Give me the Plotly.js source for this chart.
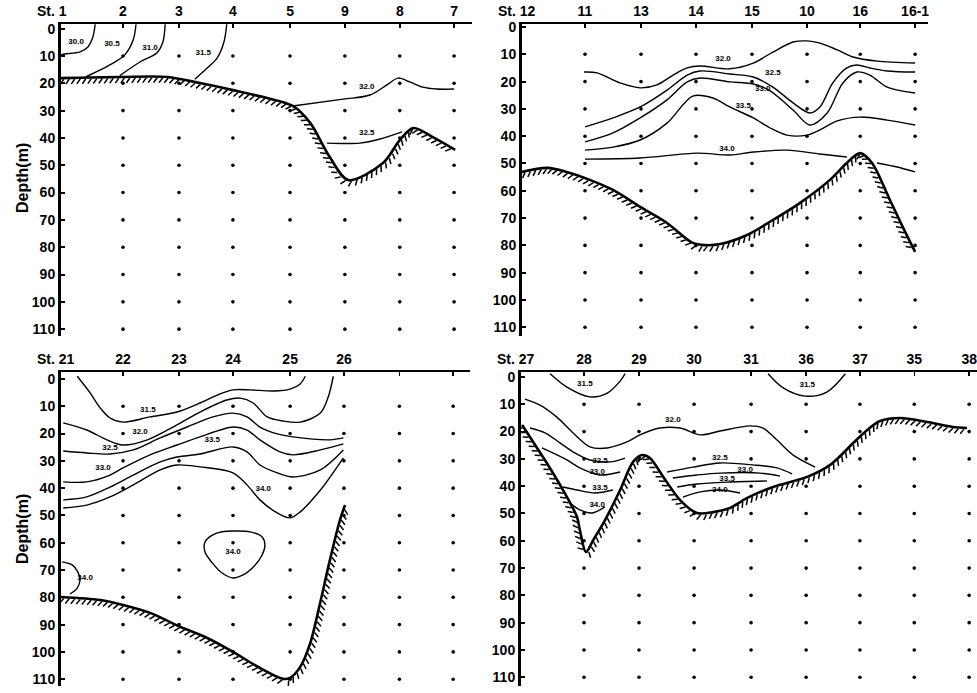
<!DOCTYPE html>
<html><head><meta charset="utf-8">
<script src="https://cdn.plot.ly/plotly-3.0.1.min.js"></script>
<style>html,body{margin:0;padding:0;background:#fff}#chart{width:977px;height:693px}</style>
</head><body><div id="chart"></div>
<script>
// ---------- DATA ----------
const DEPTHS = [10,20,30,40,50,60,70,80,90,100,110];
const Y_TICKS = [0,10,20,30,40,50,60,70,80,90,100,110];

// Panel 1
const P1_ST = ['1','2','3','4','5','9','8','7'];
const P1_X  = [0,1.107,2.107,3.07,4.09,5.07,6.05,7.02];
const P1_C300_X = [0.61,0.57,0.48,0.34,0.07,0];
const P1_C300_D = [-1.6,3.0,6.7,8.5,9.3,9.6];
const P1_C305_X = [1.34,1.29,1.14,0.93,0.70,0.45];
const P1_C305_D = [-1.6,4.1,9.6,12.6,15.1,17.6];
const P1_C310_X = [1.86,1.82,1.71,1.41,1.05];
const P1_C310_D = [-1.6,4.9,8.9,12.2,17.2];
const P1_C315_X = [2.96,2.91,2.79,2.61,2.39];
const P1_C315_D = [-1.6,4.9,10.7,14.4,18.5];
const P1_C320_X = [4.14,5.04,5.52,5.82,6.02,6.23,6.46,6.71,7.02];
const P1_C320_D = [28.3,25.8,24.3,20.6,18.1,19.5,21.4,22.1,22.1];
const P1_C325_X = [4.75,5.34,5.70,6.09];
const P1_C325_D = [41.9,41.9,40.4,37.8];
const P1_BOT_X = [0,1.05,1.89,2.48,3.07,3.68,4.14,4.45,4.80,5.13,5.75,6.05,6.29,6.64,7.04];
const P1_BOT_D = [18.1,17.7,17.7,19.9,22.5,25.4,28.3,34.5,47,55.4,49.2,40.8,36.4,39.7,44.4];
const P1_LBL_T = ['30.0','30.5','31.0','31.5','32.0','32.5'];
const P1_LBL_X = [0.27,0.91,1.59,2.54,5.46,5.46];
const P1_LBL_D = [5.0,5.6,7.1,9.0,21.4,38.2];

// Panel 2
const P2_ST = ['12','11','13','14','15','10','16','16-1'];
const P2_X  = [0,1.125,2.125,3.107,4.107,5.09,6.04,7.02];
const P2_C320_X = [1.107,1.34,1.75,2.11,2.41,2.70,2.95,3.18,3.71,4.13,4.48,4.84,5.09,5.32,5.63,5.91,6.34,7.02];
const P2_C320_D = [16.5,16.8,20.5,22.3,21.2,17.6,15.0,14.3,15.3,13.2,9.2,5.5,5.1,5.9,8.4,11.0,12.5,13.2];
const P2_C325_X = [1.125,1.625,2.11,2.59,2.95,3.18,3.71,4.13,4.48,4.84,5.14,5.32,5.55,5.80,5.98,6.21,6.52,7.02];
const P2_C325_D = [36.6,33.3,29.3,23.1,17.6,16.1,17.2,18.3,22.0,27.8,31.5,29.3,20.5,15.0,13.9,15.0,16.1,16.5];
const P2_C330_X = [1.125,1.625,2.11,2.59,2.95,3.18,3.71,4.13,4.43,4.84,5.14,5.45,5.73,5.98,6.21,6.52,7.02];
const P2_C330_D = [42.1,38.8,33.3,26.7,20.1,18.7,20.1,20.9,23.4,30.4,35.9,31.5,20.5,16.5,17.6,22.0,24.2];
const P2_C335_X = [1.125,1.625,2.11,2.59,3.05,3.41,3.71,4.13,4.43,4.73,5.09,5.32,5.63,6.04,6.52,7.02];
const P2_C335_D = [45.1,44.0,41.4,35.2,25.3,26.0,29.3,33.3,37.0,39.6,39.6,37.7,34.4,33.0,34.1,35.9];
const P2_C340_X = [1.125,2.11,3.13,3.71,4.13,4.73,5.32,5.80,null,6.34,6.70,7.02];
const P2_C340_D = [48.4,48.0,46.2,46.9,45.8,45.1,46.5,47.6,null,49.8,51.3,53.1];
const P2_BOT_X = [0,0.45,0.80,1.21,1.625,2.11,2.59,3.05,3.27,3.54,4.02,4.48,4.96,5.5,5.80,6.04,6.25,6.57,6.80,7.02];
const P2_BOT_D = [53.1,51.6,53.1,56.0,59.7,65.9,71.8,79.1,79.9,79.5,76.2,70.7,64.5,56.0,49.8,46.2,49.8,63.4,73.3,82.4];
const P2_LBL_T = ['32.0','32.5','33.0','33.5','34.0'];
const P2_LBL_X = [3.59,4.48,4.30,3.95,3.66];
const P2_LBL_D = [11.7,16.8,22.7,28.9,44.7];

// Panel 3
const P3_ST = ['21','22','23','24','25','26','',''];
const P3_X  = [0,1.107,2.107,3.07,4.09,5.05,6.04,7.0];
const P3_C315_X = [0.29,0.52,0.70,0.875,1.107,1.59,2.07,2.48,2.79,3.07,3.375,3.79,4.09,4.27,4.36];
const P3_C315_D = [-1.0,5.1,10.6,14.3,15.8,13.9,12.1,8.8,5.9,4.0,4.0,4.4,3.7,1.8,-1.0];
const P3_C320_X = [0.04,0.46,0.82,1.107,1.54,2.07,2.48,2.96,3.20,3.43,3.68,3.96,4.27,4.63,4.77,4.86];
const P3_C320_D = [16.1,18.7,22.3,24.2,22.3,16.8,12.1,7.7,7.0,8.8,13.9,15.4,15.8,12.5,6.6,-1.0];
const P3_C325_X = [0.04,0.46,0.875,1.29,1.77,2.25,2.71,3.07,3.32,3.55,3.86,4.14,4.80,5.04];
const P3_C325_D = [26.4,27.1,27.5,26.0,21.6,17.6,13.9,12.5,13.9,17.6,20.1,21.2,22.3,21.6];
const P3_C330_X = [0.04,0.46,0.875,1.107,1.59,2.07,2.48,3.07,3.32,3.55,3.91,4.14,4.63,5.04];
const P3_C330_D = [37.7,37.7,35.2,32.6,27.8,24.2,21.2,17.6,18.7,22.3,26.7,27.8,26.0,23.8];
const P3_C335_X = [0.04,0.46,0.875,1.29,1.77,2.07,2.48,3.07,3.32,3.55,3.86,4.14,4.63,5.04];
const P3_C335_D = [44.3,43.2,39.6,35.2,30.4,28.6,27.5,24.9,26.7,31.5,34.4,35.9,33.3,26.0];
const P3_C340_X = [0.04,0.46,0.875,1.29,1.77,2.07,2.48,3.07,3.32,3.55,3.86,4.09,4.27,4.63,5.04];
const P3_C340_D = [47.3,46.2,43.2,38.8,33.3,31.5,32.2,34.4,38.8,44.3,49.1,50.9,48.7,40.7,28.9];
const P3_C340B_X = [3.07,3.375,3.59,3.64,3.59,3.45,3.25,3.07,2.875,2.70,2.57,2.57,2.71,2.875,3.07];
const P3_C340B_D = [55.7,56.0,57.9,60.8,64.5,68.5,71.8,72.9,71.1,67.4,63.4,59.7,57.1,56.0,55.7];
const P3_C340C_X = [0.02,0.20,0.30,0.34,0.29,0.16];
const P3_C340C_D = [67.0,68.1,70.7,73.6,76.6,78.8];
const P3_BOT_X = [0,0.70,1.107,1.59,2.125,2.61,3.07,3.55,3.96,4.09,4.27,4.45,4.625,4.80,4.98,5.07];
const P3_BOT_D = [79.9,81.0,82.8,85.7,90.8,94.9,100,105.9,109.9,109.5,105.5,96.7,82.1,66.3,51.6,46.2];
const P3_LBL_T = ['31.5','32.0','32.5','33.0','33.5','34.0','34.0','34.0'];
const P3_LBL_X = [1.55,1.41,0.875,0.75,2.70,3.61,3.07,0.43];
const P3_LBL_D = [11.4,19.4,25.3,32.6,22.3,40.3,63.4,72.9];

// Panel 4
const P4_ST = ['27','28','29','30','31','36','37','35','38'];
const P4_X  = [0,1.125,2.107,3.09,4.107,5.09,6.05,7.02,8.0];
const P4_C315A_X = [0.52,0.82,1.23,1.54,1.77,1.86];
const P4_C315A_D = [-1.2,3.7,7.3,5.9,1.5,-1.2];
const P4_C315B_X = [4.41,4.68,5.07,5.46,5.79];
const P4_C315B_D = [-1.2,4.0,7.0,5.5,-1.2];
const P4_C320_X = [0.07,0.34,0.64,0.93,1.23,1.54,1.89,2.125,2.48,2.84,3.20,3.55,4.09,4.32,4.57,4.86,5.25];
const P4_C320_D = [8.1,10.3,14.7,20.5,25.6,26.0,23.8,21.2,18.7,18.7,21.2,19.8,17.9,18.7,23.1,28.6,33.0];
const P4_C325_X = [0.16,0.43,0.70,0.96,1.23,1.59,1.86,null,2.61,3.07,3.55,4.14,4.57,4.84];
const P4_C325_D = [18.7,20.5,24.2,27.8,30.4,31.1,29.7,null,34.8,33.0,31.5,32.2,33.3,35.5];
const P4_C330_X = [0.375,0.82,1.05,1.41,1.77,null,2.71,3.14,3.55,4.27,4.625];
const P4_C330_D = [26.0,30.4,33.3,35.9,34.8,null,37.0,35.9,35.2,35.2,36.3];
const P4_C335_X = [0.75,1.0,1.32,1.64,null,2.79,3.14,3.68,4.39];
const P4_C335_D = [40.3,41.4,42.5,41.4,null,40.3,39.2,38.5,38.1];
const P4_C340_X = [0.875,1.05,1.27,1.5,null,2.89,3.20,3.55,3.91];
const P4_C340_D = [46.2,48.7,49.8,47.6,null,44.0,42.1,41.4,42.5];
const P4_BOT_X = [0.02,0.16,0.46,0.75,1.0,1.05,1.16,1.29,1.5,1.77,2.0,2.16,2.30,2.54,2.84,3.14,3.43,3.73,4.04,4.5,5.11,5.52,5.93,6.18,6.41,6.77,7.25,7.71,7.96];
const P4_BOT_D = [17.6,22.0,31.5,41.4,51.3,56.0,64.1,59.7,52.4,41.4,31.1,28.6,29.7,36.6,45.1,49.8,49.5,48.0,44.3,40.3,36.6,32.2,24.2,19.4,16.1,15.0,16.5,18.3,18.7];
const P4_LBL_T = ['31.5','32.0','32.5','33.0','33.5','34.0','32.5','33.0','33.5','34.0','31.5'];
const P4_LBL_X = [1.14,2.71,1.41,1.36,1.41,1.36,3.55,4.0,3.68,3.55,5.11];
const P4_LBL_D = [2.6,15.8,30.8,34.8,40.7,46.9,29.7,34.1,37.4,41.4,2.9];

// ---------- LAYOUT GEOMETRY ----------
const W = 977, H = 693;
const PANELS = [
  {l:61, r:472, t:24,  b:336, xr:[0,7.34], yr:[112.5,-1.7]},
  {l:522,r:928, t:24,  b:336, xr:[0,7.25], yr:[113.2,-1.1]},
  {l:61, r:470, t:372, b:686, xr:[0,7.3],  yr:[112.5,-2.56]},
  {l:521,r:977, t:372, b:686, xr:[0,8.14], yr:[113.2,-1.83]}
];
const FONT = 'Liberation Sans, Arial, Helvetica, sans-serif';

function hatch(xs, ds, P, spacing, len, angDeg) {
  const sx = (P.r - P.l) / (P.xr[1] - P.xr[0]);
  const sy = (P.b - P.t) / (P.yr[0] - P.yr[1]);
  const pts = xs.map((x, i) => [(x - P.xr[0]) * sx, (ds[i] - P.yr[1]) * sy]);
  const dense = []; const N = 16;
  for (let i = 0; i < pts.length - 1; i++) {
    const p0 = pts[Math.max(i-1,0)], p1 = pts[i], p2 = pts[i+1], p3 = pts[Math.min(i+2, pts.length-1)];
    for (let k = 0; k < N; k++) {
      const t = k / N, t2 = t*t, t3 = t2*t;
      const f = (a,b,c,d) => 0.5*((2*b)+(-a+c)*t+(2*a-5*b+4*c-d)*t2+(-a+3*b-3*c+d)*t3);
      dense.push([f(p0[0],p1[0],p2[0],p3[0]), f(p0[1],p1[1],p2[1],p3[1])]);
    }
  }
  dense.push(pts[pts.length-1]);
  const hx = [], hy = [];
  const a = angDeg * Math.PI / 180;
  let acc = spacing / 2;
  for (let i = 0; i < dense.length - 1; i++) {
    const [x1,y1] = dense[i], [x2,y2] = dense[i+1];
    const seg = Math.hypot(x2-x1, y2-y1);
    if (seg === 0) continue;
    const tx = (x2-x1)/seg, ty = (y2-y1)/seg;
    const nx = -ty, ny = tx;
    while (acc <= seg) {
      const px = x1 + tx*acc, py = y1 + ty*acc;
      const dx = Math.cos(a)*nx - Math.sin(a)*tx, dy = Math.cos(a)*ny - Math.sin(a)*ty;
      const sxp = px + nx*1.2, syp = py + ny*1.2;
      const exp = px + dx*len, eyp = py + dy*len;
      hx.push(P.xr[0] + sxp/sx, P.xr[0] + exp/sx, null);
      hy.push(P.yr[1] + syp/sy, P.yr[1] + eyp/sy, null);
      acc += spacing;
    }
    acc -= seg;
  }
  return {x: hx, y: hy};
}

const traces = [];
function axn(i){ return i === 0 ? '' : String(i+1); }
function addLine(i, xs, ds, w) {
  traces.push({type:'scatter', mode:'lines', x:xs, y:ds, xaxis:'x'+axn(i), yaxis:'y'+axn(i),
    line:{color:'#000', width:w||1.4, shape:'spline', smoothing:0.9}, hoverinfo:'skip', showlegend:false});
}
function addBottom(i, xs, ds) {
  addLine(i, xs, ds, 2.6);
  const h = hatch(xs, ds, PANELS[i], 5.5, 7, 30);
  traces.push({type:'scatter', mode:'lines', x:h.x, y:h.y, xaxis:'x'+axn(i), yaxis:'y'+axn(i),
    line:{color:'#000', width:1.5}, hoverinfo:'skip', showlegend:false});
}
function addDots(i, stX) {
  const xs = [], ys = [];
  stX.slice(1).forEach(x => DEPTHS.forEach(d => { xs.push(x); ys.push(d); }));
  traces.push({type:'scatter', mode:'markers', x:xs, y:ys, xaxis:'x'+axn(i), yaxis:'y'+axn(i),
    marker:{color:'#000', size:3.6}, cliponaxis:false, hoverinfo:'skip', showlegend:false});
}
function addLabels(i, t, xs, ds) {
  traces.push({type:'scatter', mode:'text', x:xs, y:ds, text:t, xaxis:'x'+axn(i), yaxis:'y'+axn(i),
    textfont:{family:FONT, size:8, color:'#000', weight:'bold'}, textposition:'middle center',
    cliponaxis:false, hoverinfo:'skip', showlegend:false});
}

// Panel 1
addDots(0, P1_X);
[[P1_C300_X,P1_C300_D],[P1_C305_X,P1_C305_D],[P1_C310_X,P1_C310_D],[P1_C315_X,P1_C315_D],
 [P1_C320_X,P1_C320_D],[P1_C325_X,P1_C325_D]].forEach(c => addLine(0, c[0], c[1]));
addBottom(0, P1_BOT_X, P1_BOT_D);
addLabels(0, P1_LBL_T, P1_LBL_X, P1_LBL_D);
// Panel 2
addDots(1, P2_X);
[[P2_C320_X,P2_C320_D],[P2_C325_X,P2_C325_D],[P2_C330_X,P2_C330_D],[P2_C335_X,P2_C335_D],
 [P2_C340_X,P2_C340_D]].forEach(c => addLine(1, c[0], c[1]));
addBottom(1, P2_BOT_X, P2_BOT_D);
addLabels(1, P2_LBL_T, P2_LBL_X, P2_LBL_D);
// Panel 3
addDots(2, P3_X);
[[P3_C315_X,P3_C315_D],[P3_C320_X,P3_C320_D],[P3_C325_X,P3_C325_D],[P3_C330_X,P3_C330_D],
 [P3_C335_X,P3_C335_D],[P3_C340_X,P3_C340_D],[P3_C340B_X,P3_C340B_D],[P3_C340C_X,P3_C340C_D]].forEach(c => addLine(2, c[0], c[1]));
addBottom(2, P3_BOT_X, P3_BOT_D);
addLabels(2, P3_LBL_T, P3_LBL_X, P3_LBL_D);
// Panel 4
addDots(3, P4_X);
[[P4_C315A_X,P4_C315A_D],[P4_C315B_X,P4_C315B_D],[P4_C320_X,P4_C320_D],[P4_C325_X,P4_C325_D],
 [P4_C330_X,P4_C330_D],[P4_C335_X,P4_C335_D],[P4_C340_X,P4_C340_D]].forEach(c => addLine(3, c[0], c[1]));
addBottom(3, P4_BOT_X, P4_BOT_D);
addLabels(3, P4_LBL_T, P4_LBL_X, P4_LBL_D);

const STX = [P1_X, P2_X, P3_X, P4_X];
const STT = [P1_ST, P2_ST, P3_ST, P4_ST];
const layout = {
  width: W, height: H, margin:{l:0,r:0,t:0,b:0}, paper_bgcolor:'#fff', plot_bgcolor:'#fff',
  showlegend:false, font:{family:FONT, color:'#000'}, annotations:[]
};
PANELS.forEach((P, i) => {
  layout['xaxis'+axn(i)] = {
    domain:[P.l/W, P.r/W], range:P.xr, side:'top', anchor:'y'+axn(i),
    showline:true, linewidth:2, linecolor:'#000', ticks:'inside', ticklen:4, tickwidth:1.5, tickcolor:'#000',
    tickmode:'array', tickvals:STX[i], ticktext:STT[i].map((s, k) => k === 0 ? '' : s),
    tickfont:{family:FONT, size:14, color:'#000', weight:'bold'}, ticklabeloverflow:'allow',
    showgrid:false, zeroline:false, fixedrange:true
  };
  layout['yaxis'+axn(i)] = {
    domain:[1 - P.b/H, 1 - P.t/H], range:P.yr, anchor:'x'+axn(i),
    showline:true, linewidth:3, linecolor:'#000', ticks:'inside', ticklen:4, tickwidth:2, tickcolor:'#000',
    tickmode:'array', tickvals:Y_TICKS, ticktext:Y_TICKS.map(String),
    tickfont:{family:FONT, size:14, color:'#000', weight:'bold'},
    showgrid:false, zeroline:false, fixedrange:true
  };
  layout.annotations.push({text:'St. ' + STT[i][0], xref:'paper', yref:'paper', x:(P.l-26)/W, y:1-(P.t-13)/H,
    showarrow:false, font:{family:FONT, size:14, color:'#000', weight:'bold'}, xanchor:'left', yanchor:'middle'});
});
layout.annotations.push({text:'Depth(m)', xref:'paper', yref:'paper', x:22/W, y:1-178/H, textangle:-90,
  showarrow:false, font:{family:FONT, size:16, color:'#000', weight:'bold'}, xanchor:'center', yanchor:'middle'});
layout.annotations.push({text:'Depth(m)', xref:'paper', yref:'paper', x:22/W, y:1-529/H, textangle:-90,
  showarrow:false, font:{family:FONT, size:16, color:'#000', weight:'bold'}, xanchor:'center', yanchor:'middle'});

Plotly.newPlot('chart', traces, layout, {staticPlot:true, displayModeBar:false});
</script></body></html>
